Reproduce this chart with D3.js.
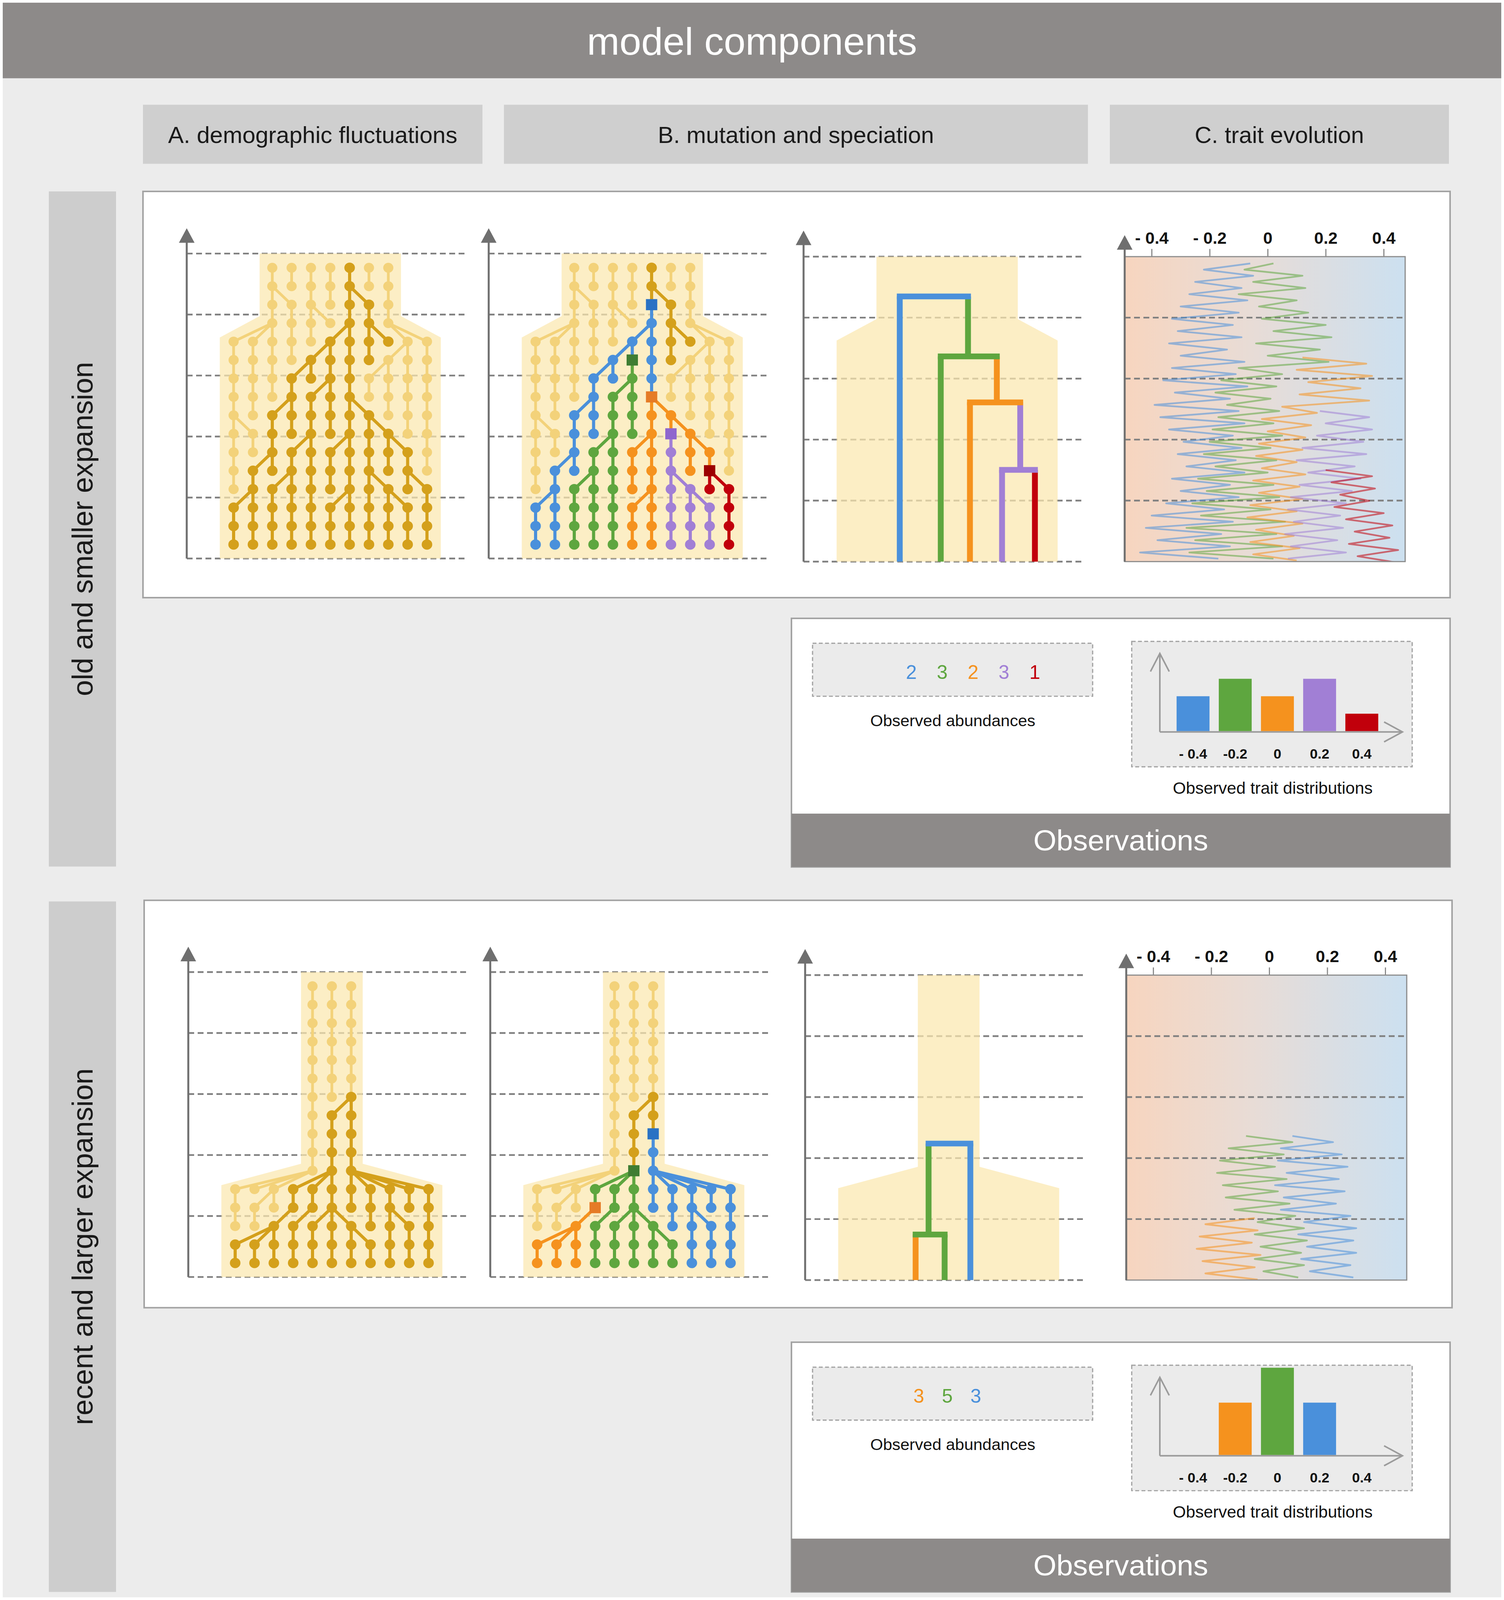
<!DOCTYPE html>
<html>
<head>
<meta charset="utf-8">
<script src="https://cdn.jsdelivr.net/npm/d3@7"></script>
<style>
html, body { margin: 0; padding: 0; background: #fff; width: 100%; height: 100%; overflow: hidden; }
svg { display: block; width: 100vw; height: 100vh; font-family: "Liberation Sans", Arial, sans-serif; }
</style>
</head>
<body>
<svg id="fig" viewBox="0 0 3850 4171" preserveAspectRatio="none"></svg>
<script>
// ---------------- data ----------------
var _ = null;

// population size per generation (16 generations, top = oldest)
var topPopSize    = [7,7,7,7,11,11,11,11,11,11,11,11,11,11,11,11];
var bottomPopSize = [3,3,3,3,3,3,3,3,3,3,3,11,11,11,11,11];

// parent column of every individual (column slots 0..10), null = empty slot
var topParents = [
  [_,_,2,3,4,5,6,7,8,_,_],
  [_,_,2,3,4,5,6,7,8,_,_],
  [_,_,2,2,4,5,6,6,8,_,_],
  [_,_,2,3,4,4,6,7,8,_,_],
  [2,2,2,3,4,6,6,7,7,8,8],
  [0,1,2,3,5,5,6,7,9,9,10],
  [0,1,2,4,4,5,6,8,8,9,10],
  [0,1,2,3,5,5,6,7,8,9,10],
  [0,1,3,3,4,5,6,6,8,9,10],
  [0,0,2,3,4,5,6,7,7,9,10],
  [0,1,2,4,4,6,6,7,8,8,10],
  [0,2,2,3,4,5,6,7,8,9,10],
  [0,1,3,3,4,5,6,7,7,9,9],
  [1,1,2,3,4,6,6,7,8,8,10],
  [0,1,2,3,4,5,6,7,8,9,10],
  [0,1,2,3,4,5,6,7,8,9,10]
];
var bottomParents = [
  [_,_,_,_,4,5,6,_,_,_,_],
  [_,_,_,_,4,5,6,_,_,_,_],
  [_,_,_,_,4,5,6,_,_,_,_],
  [_,_,_,_,4,5,6,_,_,_,_],
  [_,_,_,_,4,5,6,_,_,_,_],
  [_,_,_,_,4,5,6,_,_,_,_],
  [_,_,_,_,4,5,6,_,_,_,_],
  [_,_,_,_,4,6,6,_,_,_,_],
  [_,_,_,_,4,5,6,_,_,_,_],
  [_,_,_,_,4,5,6,_,_,_,_],
  [_,_,_,_,4,5,6,_,_,_,_],
  [4,4,4,5,5,5,6,6,6,6,6],
  [0,2,2,3,4,5,6,7,8,9,10],
  [0,1,3,4,5,5,5,7,8,8,10],
  [2,2,2,3,4,5,6,6,8,9,10],
  [0,1,2,3,4,5,6,7,8,9,10]
];

// common ancestor of the sample [generation, column]
var topRoot = [0, 6];
var bottomRoot = [6, 6];

// speciation (mutation) events
var topMutations = [
  {gen: 2, col: 6, sp: "blue"},
  {gen: 5, col: 5, sp: "green"},
  {gen: 7, col: 6, sp: "orange"},
  {gen: 9, col: 7, sp: "purple"},
  {gen: 11, col: 9, sp: "red"}
];
var bottomMutations = [
  {gen: 8, col: 6, sp: "blue"},
  {gen: 10, col: 5, sp: "green"},
  {gen: 12, col: 3, sp: "orange"}
];

// species trees (x in column units, t in generations, t1 null = present)
var topTreeBranches = [
  {sp: "blue",   x: 2.55, t0: 1.39,  t1: null},
  {sp: "green",  x: 6.08, t0: 1.39,  t1: 4.64},
  {sp: "green",  x: 4.67, t0: 4.64,  t1: null},
  {sp: "orange", x: 7.57, t0: 4.64,  t1: 7.13},
  {sp: "orange", x: 6.18, t0: 7.13,  t1: null},
  {sp: "purple", x: 8.78, t0: 7.13,  t1: 10.79},
  {sp: "purple", x: 7.84, t0: 10.79, t1: null},
  {sp: "red",    x: 9.54, t0: 10.79, t1: null}
];
var topTreeJoins = [
  {sp: "blue",   t: 1.39,  x0: 2.55, x1: 6.08},
  {sp: "green",  t: 4.64,  x0: 4.67, x1: 7.57},
  {sp: "orange", t: 7.13,  x0: 6.18, x1: 8.78},
  {sp: "purple", t: 10.79, x0: 7.84, x1: 9.54}
];
var bottomTreeBranches = [
  {sp: "blue",   x: 6.12, t0: 8.36,  t1: null},
  {sp: "green",  x: 3.96, t0: 8.36,  t1: 13.29},
  {sp: "green",  x: 4.79, t0: 13.29, t1: null},
  {sp: "orange", x: 3.29, t0: 13.29, t1: null}
];
var bottomTreeJoins = [
  {sp: "blue",  t: 8.36,  x0: 3.96, x1: 6.12},
  {sp: "green", t: 13.29, x0: 3.29, x1: 4.79}
];

// trait trajectories: one vertex every third of a generation from t0
var traitStep = 1 / 3;
var topTraitBlue = [-0.06,-0.22,-0.05,-0.25,-0.09,-0.27,-0.07,-0.30,-0.10,-0.33,
  -0.12,-0.31,-0.09,-0.34,-0.14,-0.30,-0.08,-0.33,-0.11,-0.36,
  -0.07,-0.32,-0.13,-0.39,-0.10,-0.37,-0.08,-0.34,-0.12,-0.29,
  -0.09,-0.31,-0.11,-0.28,-0.08,-0.33,-0.13,-0.30,-0.10,-0.35,
  -0.15,-0.40,-0.12,-0.42,-0.16,-0.38,-0.13,-0.44,-0.17];
var topTraitGreen = [0.02,-0.08,0.12,-0.05,0.13,-0.10,0.10,-0.03,0.14,-0.02,
  0.20,0.02,0.22,-0.04,0.18,0.00,0.21,-0.10,0.05,-0.16,
  0.03,-0.18,0.01,-0.14,0.04,-0.17,0.02,-0.19,0.05,-0.20,
  0.01,-0.22,0.03,-0.18,0.00,-0.24,0.02,-0.21,0.04,-0.26,
  0.01,-0.23,0.06,-0.28,0.03,-0.25,0.05,-0.27,0.02];
var topTraitOrange = [0.12,0.34,0.10,0.36,0.14,0.32,0.11,0.35,0.05,0.17,
  -0.02,0.15,0.00,0.13,-0.03,0.12,-0.04,0.10,-0.02,0.13,
  -0.05,0.11,-0.03,0.12,-0.06,0.10,-0.07,0.12,-0.04,0.09,
  -0.06,0.11,-0.05,0.10];
var topTraitPurple = [0.18,0.35,0.20,0.36,0.17,0.33,0.12,0.34,0.10,0.30,
  0.14,0.32,0.11,0.29,0.08,0.27,0.07,0.25,0.09,0.26,
  0.06,0.24,0.08,0.27,0.07];
var topTraitRed = [0.20,0.36,0.22,0.37,0.25,0.35,0.23,0.40,0.27,0.43,
  0.30,0.42,0.28,0.45,0.31,0.44];
var bottomTraitBlue = [0.08,0.22,0.04,0.25,0.03,0.27,0.06,0.24,0.02,0.26,
  0.05,0.23,0.04,0.28,0.12,0.30,0.10,0.29,0.13,0.30,
  0.11,0.28,0.14,0.29];
var bottomTraitGreen = [-0.08,0.08,-0.14,0.05,-0.17,0.02,-0.18,0.06,-0.16,0.03,
  -0.15,0.07,-0.12,0.09,-0.04,0.12,-0.05,0.13,-0.03,0.11,
  -0.05,0.12,-0.02,0.10];
var bottomTraitOrange = [-0.05,-0.22,-0.04,-0.24,-0.06,-0.25,-0.03,-0.23,-0.05,-0.22,-0.04];

var traitTicks = [-0.4, -0.2, 0, 0.2, 0.4];

// observations
var traitBins = ["- 0.4", "-0.2", "0", "0.2", "0.4"];
var topAbundSpecies = ["blue", "green", "orange", "purple", "red"];
var topAbund = [2, 3, 2, 3, 1];
var topBinOf = ["- 0.4", "-0.2", "0", "0.2", "0.4"];
var bottomAbundSpecies = ["orange", "green", "blue"];
var bottomAbund = [3, 5, 3];
var bottomBinOf = ["-0.2", "0", "0.2"];

var columnTitles = ["A. demographic fluctuations", "B. mutation and speciation", "C. trait evolution"];
var rowTitles = ["old and smaller expansion", "recent and larger expansion"];

// ---------------- styles ----------------
var spColor = {gold: "#d4a01b", blue: "#4a90db", green: "#5ea63f", orange: "#f5921e", purple: "#a17fd5", red: "#c1000b"};
var mutColor = {blue: "#2a72c4", green: "#3f7d33", orange: "#e57b26", purple: "#8e66ce", red: "#9c0000"};
var LIGHT = "#f3d27a";
var DASH = 159;
var genToDash = d3.scaleLinear().domain([-0.77, 15.76]).range([0, 5]);

var svg = d3.select("#fig");
var defs = svg.append("defs");
var grad = defs.append("linearGradient").attr("id", "traitGrad")
  .attr("x1", "0%").attr("x2", "100%").attr("y1", "0%").attr("y2", "0%");
grad.append("stop").attr("offset", "0%").attr("stop-color", "#f7d5bf");
grad.append("stop").attr("offset", "45%").attr("stop-color", "#e8dcd6");
grad.append("stop").attr("offset", "100%").attr("stop-color", "#cce0f0");

// background + header
svg.append("rect").attr("x", 0).attr("y", 0).attr("width", 3850).attr("height", 4171).attr("fill", "#fff");
svg.append("rect").attr("x", 7).attr("y", 7).attr("width", 3836).attr("height", 4157).attr("fill", "#ececec");
svg.append("rect").attr("x", 7).attr("y", 7).attr("width", 3836).attr("height", 197).attr("fill", "#8d8a89");
svg.append("text").attr("x", 1925).attr("y", 108).attr("text-anchor", "middle").attr("dominant-baseline", "central")
  .attr("fill", "#fff").style("font-size", "100px").text("model components");

var colBoxes = [[366, 869], [1290, 1495], [2841, 868]];
colBoxes.forEach(function(b, i) {
  svg.append("rect").attr("x", b[0]).attr("y", 273).attr("width", b[1]).attr("height", 154).attr("fill", "#cfcfcf");
  svg.append("text").attr("x", b[0] + b[1] / 2).attr("y", 352).attr("text-anchor", "middle")
    .attr("dominant-baseline", "central").attr("fill", "#1a1a1a").style("font-size", "60px").text(columnTitles[i]);
});

var rowsCfg = [
  {dash0: 661, dx: 0, popSize: topPopSize, parents: topParents, root: topRoot, muts: topMutations,
   branches: topTreeBranches, joins: topTreeJoins,
   traits: [{sp: "blue", t0: -0.4, v: topTraitBlue}, {sp: "green", t0: -0.4, v: topTraitGreen},
            {sp: "orange", t0: 4.7, v: topTraitOrange}, {sp: "purple", t0: 7.6, v: topTraitPurple},
            {sp: "red", t0: 10.8, v: topTraitRed}],
   labelBox: [499, 1760], panelBox: [366, 499, 3346, 1059],
   obsY: 1612, obsH: 648, abSp: topAbundSpecies, ab: topAbund, bin: topBinOf, numRange: [2333, 2649]},
  {dash0: 2534, dx: 4, popSize: bottomPopSize, parents: bottomParents, root: bottomRoot, muts: bottomMutations,
   branches: bottomTreeBranches, joins: bottomTreeJoins,
   traits: [{sp: "blue", t0: 7.95, v: bottomTraitBlue}, {sp: "green", t0: 7.95, v: bottomTraitGreen},
            {sp: "orange", t0: 12.4, v: bottomTraitOrange}],
   labelBox: [2350, 1800], panelBox: [369, 2347, 3348, 1062],
   obsY: 3499, obsH: 651, abSp: bottomAbundSpecies, ab: bottomAbund, bin: bottomBinOf, numRange: [2352, 2498]}
];

// ---------------- helpers ----------------
function drawDashes(g, yD, x0, x1, ks) {
  g.append("g").selectAll("line").data(ks || d3.range(6)).join("line")
    .attr("x1", x0).attr("x2", x1).attr("y1", function(d) { return yD(d); }).attr("y2", function(d) { return yD(d); })
    .attr("stroke", "#808080").attr("stroke-width", 4.5).attr("stroke-dasharray", "15 9");
}

function drawTimeAxis(g, ax, yBottom, tipY) {
  g.append("line").attr("x1", ax).attr("x2", ax).attr("y1", yBottom).attr("y2", tipY + 32)
    .attr("stroke", "#6f6f6f").attr("stroke-width", 5);
  g.append("path").attr("d", "M" + (ax - 20) + "," + (tipY + 38) + "L" + ax + "," + tipY + "L" + (ax + 20) + "," + (tipY + 38) + "Z")
    .attr("fill", "#6f6f6f");
}

function bgPath(popSize, x, y) {
  var half = function(n) { return (n - 1) / 2 + 0.55 + 0.015 * n; };
  var left = [[5 - half(popSize[0]), -0.77]];
  for (var g = 1; g < popSize.length; g++) {
    if (popSize[g] !== popSize[g - 1]) {
      left.push([5 - half(popSize[g - 1]), g - 1.38]);
      left.push([5 - half(popSize[g]), g - 0.22]);
    }
  }
  left.push([5 - half(popSize[popSize.length - 1]), 15.76]);
  var right = left.map(function(p) { return [10 - p[0], p[1]]; }).reverse();
  return d3.line()(left.concat(right).map(function(p) { return [x(p[0]), y(p[1])]; })) + "Z";
}

function buildNodes(parents, root, muts) {
  var grid = parents.map(function() { return []; });
  var nodes = [];
  parents.forEach(function(row, r) {
    row.forEach(function(p, c) {
      if (p === null) return;
      var par = r > 0 ? grid[r - 1][p] : null;
      var isRoot = (r === root[0] && c === root[1]);
      var dark = isRoot || (par !== null && par !== undefined && par.dark);
      var mut = muts.find(function(m) { return m.gen === r && m.col === c; });
      var sp = null;
      if (dark) sp = mut ? mut.sp : (isRoot ? "gold" : par.sp);
      var n = {r: r, c: c, par: par || null, dark: dark, sp: sp, mut: !!mut};
      grid[r][c] = n;
      nodes.push(n);
    });
  });
  return nodes;
}

// ---------------- panels ----------------
function drawGenealogy(cfg, axisX, colored) {
  var g = svg.append("g");
  var x = d3.scaleLinear().domain([0, 10]).range([axisX + 120, axisX + 615]);
  var yD = d3.scaleLinear().domain([0, 5]).range([cfg.dash0, cfg.dash0 + 5 * DASH]);
  var y = function(t) { return yD(genToDash(t)); };
  drawDashes(g, yD, axisX, axisX + 720);
  g.append("path").attr("d", bgPath(cfg.popSize, x, y)).attr("fill", "#fbe7ae").attr("fill-opacity", 0.72);

  var nodes = buildNodes(cfg.parents, cfg.root, cfg.muts);
  var links = nodes.filter(function(n) { return n.par; });
  var darkLink = function(n) { return n.dark && n.par.dark; };
  var linkColor = function(n) {
    if (!colored) return spColor.gold;
    return spColor[n.mut ? n.par.sp : n.sp];
  };
  var nodeColor = function(n) { return colored ? spColor[n.sp] : spColor.gold; };

  g.append("g").selectAll("line").data(links.filter(function(n) { return !darkLink(n); })).join("line")
    .attr("x1", function(n) { return x(n.par.c); }).attr("y1", function(n) { return y(n.par.r); })
    .attr("x2", function(n) { return x(n.c); }).attr("y2", function(n) { return y(n.r); })
    .attr("stroke", LIGHT).attr("stroke-width", 7);
  g.append("g").selectAll("circle").data(nodes.filter(function(n) { return !n.dark; })).join("circle")
    .attr("cx", function(n) { return x(n.c); }).attr("cy", function(n) { return y(n.r); })
    .attr("r", 13).attr("fill", LIGHT);

  g.append("g").selectAll("line").data(links.filter(darkLink)).join("line")
    .attr("x1", function(n) { return x(n.par.c); }).attr("y1", function(n) { return y(n.par.r); })
    .attr("x2", function(n) { return x(n.c); }).attr("y2", function(n) { return y(n.r); })
    .attr("stroke", linkColor).attr("stroke-width", 8);
  g.append("g").selectAll("circle").data(nodes.filter(function(n) { return n.dark && !(colored && n.mut); })).join("circle")
    .attr("cx", function(n) { return x(n.c); }).attr("cy", function(n) { return y(n.r); })
    .attr("r", 13.5).attr("fill", nodeColor);
  if (colored) {
    g.append("g").selectAll("rect").data(nodes.filter(function(n) { return n.mut; })).join("rect")
      .attr("x", function(n) { return x(n.c) - 14.5; }).attr("y", function(n) { return y(n.r) - 14.5; })
      .attr("width", 29).attr("height", 29).attr("fill", function(n) { return mutColor[n.sp]; });
  }
  drawTimeAxis(g, axisX, yD(5), cfg.dash0 - 66);
}

function drawTree(cfg, axisX) {
  var g = svg.append("g");
  var top = cfg.dash0 + 8;
  var x = d3.scaleLinear().domain([0, 10]).range([axisX + 120, axisX + 615]);
  var yD = d3.scaleLinear().domain([0, 5]).range([top, top + 5 * DASH]);
  var y = function(t) { return t === null ? yD(5) : yD(genToDash(t)); };
  drawDashes(g, yD, axisX, axisX + 720);
  g.append("path").attr("d", bgPath(cfg.popSize, x, y)).attr("fill", "#fbe7ae").attr("fill-opacity", 0.72);
  g.append("g").selectAll("line").data(cfg.branches).join("line")
    .attr("x1", function(b) { return x(b.x); }).attr("x2", function(b) { return x(b.x); })
    .attr("y1", function(b) { return y(b.t0); }).attr("y2", function(b) { return y(b.t1); })
    .attr("stroke", function(b) { return spColor[b.sp]; }).attr("stroke-width", 15);
  g.append("g").selectAll("line").data(cfg.joins).join("line")
    .attr("x1", function(b) { return x(b.x0) - 7.5; }).attr("x2", function(b) { return x(b.x1) + 7.5; })
    .attr("y1", function(b) { return y(b.t); }).attr("y2", function(b) { return y(b.t); })
    .attr("stroke", function(b) { return spColor[b.sp]; }).attr("stroke-width", 15);
  drawTimeAxis(g, axisX, yD(5), top - 68);
}

function drawTrait(cfg, left, idx) {
  var g = svg.append("g");
  var top = cfg.dash0 + 8, H = 5 * DASH, W = 718;
  var x = d3.scaleLinear().domain([-0.4, 0.4]).range([left + 69, left + 663]);
  var yF = d3.scaleLinear().domain([0, 5]).range([top, top + H]);
  var y = function(t) { return yF(genToDash(t)); };
  g.append("rect").attr("x", left).attr("y", top).attr("width", W).attr("height", H).attr("fill", "url(#traitGrad)");
  drawDashes(g, yF, left, left + W, [1, 2, 3, 4]);
  defs.append("clipPath").attr("id", "traitClip" + idx).append("rect")
    .attr("x", left).attr("y", top).attr("width", W).attr("height", H);
  var line = function(tr) {
    return d3.line().x(function(v) { return x(v); }).y(function(v, i) { return y(tr.t0 + i * traitStep); })(tr.v);
  };
  g.append("g").attr("clip-path", "url(#traitClip" + idx + ")").selectAll("path").data(cfg.traits).join("path")
    .attr("d", line).attr("fill", "none").attr("stroke", function(tr) { return spColor[tr.sp]; })
    .attr("stroke-width", 4.5).attr("stroke-opacity", 0.55).attr("stroke-linejoin", "round");
  g.append("rect").attr("x", left).attr("y", top).attr("width", W).attr("height", H)
    .attr("fill", "none").attr("stroke", "#8c8c8c").attr("stroke-width", 3);
  var ax = g.append("g").attr("transform", "translate(0," + top + ")")
    .call(d3.axisTop(x).tickValues(traitTicks).tickSize(20).tickSizeOuter(0).tickPadding(14)
      .tickFormat(function(d) { return d < 0 ? "- " + Math.abs(d) : String(d); }));
  ax.select(".domain").remove();
  ax.selectAll(".tick line").attr("stroke", "#8c8c8c").attr("stroke-width", 3);
  ax.selectAll(".tick text").attr("fill", "#111").style("font-size", "43px").style("font-weight", "bold")
    .style("font-family", "'Liberation Sans', Arial, sans-serif");
  drawTimeAxis(g, left, top + H, top - 56);
}

function drawObs(cfg) {
  var oy = cfg.obsY, g = svg.append("g");
  g.append("rect").attr("x", 2026).attr("y", oy).attr("width", 1686).attr("height", cfg.obsH)
    .attr("fill", "#fff").attr("stroke", "#a3a3a3").attr("stroke-width", 4);
  g.append("rect").attr("x", 2026).attr("y", oy + cfg.obsH - 139).attr("width", 1686).attr("height", 139).attr("fill", "#8d8a89");
  g.append("text").attr("x", 2869).attr("y", oy + cfg.obsH - 69).attr("text-anchor", "middle").attr("dominant-baseline", "central")
    .attr("fill", "#fff").style("font-size", "76px").text("Observations");

  // abundances
  g.append("rect").attr("x", 2080).attr("y", oy + 65).attr("width", 717).attr("height", 138)
    .attr("fill", "#ebebeb").attr("stroke", "#a0a0a0").attr("stroke-width", 3).attr("stroke-dasharray", "10 6");
  var px = d3.scalePoint().domain(d3.range(cfg.ab.length)).range(cfg.numRange);
  g.append("g").selectAll("text").data(cfg.ab).join("text")
    .attr("x", function(d, i) { return px(i); }).attr("y", oy + 141).attr("text-anchor", "middle").attr("dominant-baseline", "central")
    .attr("fill", function(d, i) { return spColor[cfg.abSp[i]]; }).style("font-size", "50px")
    .text(function(d) { return d; });
  g.append("text").attr("x", 2439).attr("y", oy + 266).attr("text-anchor", "middle").attr("dominant-baseline", "central")
    .attr("fill", "#111").style("font-size", "42px").text("Observed abundances");

  // trait distribution
  g.append("rect").attr("x", 2897).attr("y", oy + 60).attr("width", 718).attr("height", 327)
    .attr("fill", "#ebebeb").attr("stroke", "#a0a0a0").attr("stroke-width", 3).attr("stroke-dasharray", "10 6");
  var band = d3.scaleBand().domain(traitBins).range([3000, 3540]).paddingInner(0.22).paddingOuter(0.11);
  var base = oy + 294;
  var yv = d3.scaleLinear().domain([0, 1]).range([base, base - 45.5]);
  g.append("g").selectAll("rect").data(cfg.ab).join("rect")
    .attr("x", function(d, i) { return band(cfg.bin[i]); }).attr("width", band.bandwidth())
    .attr("y", function(d) { return yv(d); }).attr("height", function(d) { return base - yv(d); })
    .attr("fill", function(d, i) { return spColor[cfg.abSp[i]]; });
  var ox = band.range()[0] - 31, oyA = base + 2;
  var yTop = yv(4.45), xEnd = band.range()[1] + 50;
  var axStyle = function(s) { return s.attr("fill", "none").attr("stroke", "#9b9b9b").attr("stroke-width", 4); };
  g.append("path").attr("d", "M" + ox + "," + oyA + "V" + yTop).call(axStyle);
  g.append("path").attr("d", "M" + ox + "," + oyA + "H" + xEnd).call(axStyle);
  g.append("path").attr("d", "M" + (ox - 24) + "," + (yTop + 47) + "L" + ox + "," + yTop + "L" + (ox + 24) + "," + (yTop + 47)).call(axStyle);
  g.append("path").attr("d", "M" + (xEnd - 47) + "," + (oyA - 26) + "L" + xEnd + "," + oyA + "L" + (xEnd - 47) + "," + (oyA + 26)).call(axStyle);
  var bx = g.append("g").attr("transform", "translate(0," + (oy + 340) + ")")
    .call(d3.axisBottom(band).tickSize(0).tickPadding(0));
  bx.select(".domain").remove();
  bx.selectAll(".tick text").attr("fill", "#111").style("font-size", "36px").style("font-weight", "bold")
    .style("font-family", "'Liberation Sans', Arial, sans-serif");
  g.append("text").attr("x", 3258).attr("y", oy + 442).attr("text-anchor", "middle").attr("dominant-baseline", "central")
    .attr("fill", "#111").style("font-size", "43px").text("Observed trait distributions");
}

rowsCfg.forEach(function(cfg, i) {
  svg.append("rect").attr("x", 125).attr("y", cfg.labelBox[0]).attr("width", 172).attr("height", cfg.labelBox[1]).attr("fill", "#cdcdcd");
  var cy = cfg.labelBox[0] + cfg.labelBox[1] / 2;
  svg.append("text").attr("transform", "translate(211," + cy + ") rotate(-90)").attr("text-anchor", "middle")
    .attr("dominant-baseline", "central").attr("fill", "#1a1a1a").style("font-size", "75px").text(rowTitles[i]);
  var pb = cfg.panelBox;
  svg.append("rect").attr("x", pb[0]).attr("y", pb[1]).attr("width", pb[2]).attr("height", pb[3])
    .attr("fill", "#fff").attr("stroke", "#a3a3a3").attr("stroke-width", 4);
  drawGenealogy(cfg, 478 + cfg.dx, false);
  drawGenealogy(cfg, 1251 + cfg.dx, true);
  drawTree(cfg, 2057 + cfg.dx);
  drawTrait(cfg, 2879 + cfg.dx, i);
  drawObs(cfg);
});
</script>
</body>
</html>
